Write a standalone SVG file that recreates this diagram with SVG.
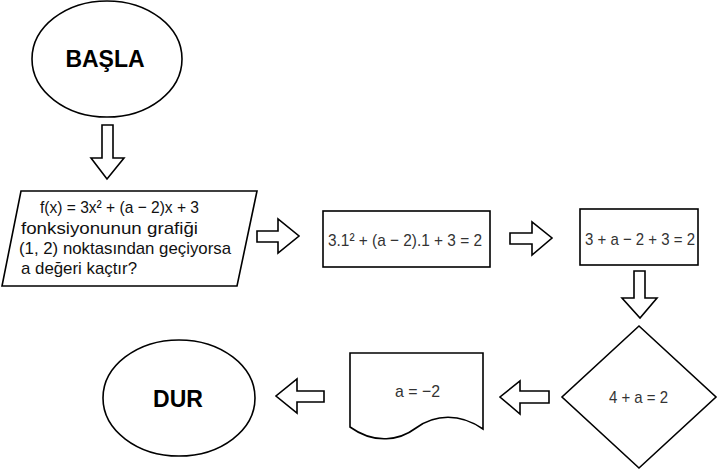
<svg xmlns="http://www.w3.org/2000/svg" width="718" height="470" viewBox="0 0 718 470">
<style>
.shape{fill:#fff;stroke:#000;stroke-width:1.6}
.arrow{fill:#fff;stroke:#000;stroke-width:1.6;stroke-linejoin:miter}
.term{font-family:"Liberation Sans",Arial,sans-serif;font-weight:bold;font-size:23px;fill:#000;text-anchor:middle}
.body{font-family:"Liberation Sans",Arial,sans-serif;font-size:17px;fill:#111}
.math{font-family:"Liberation Sans",Arial,sans-serif;font-size:17px;fill:#333}
</style>
<rect width="718" height="470" fill="#fff"/>
<g id="basla">
<ellipse class="shape" cx="107" cy="59" rx="75" ry="58"/>
<text class="term" x="105" y="67">BAŞLA</text>
</g>
<g id="soru">
<polygon class="shape" points="21,191 257,191 237,286 2,286"/>
<text class="body" x="40" y="213" textLength="159" lengthAdjust="spacingAndGlyphs">f(x) = 3x² + (a − 2)x + 3</text>
<text class="body" x="21" y="234" textLength="177" lengthAdjust="spacingAndGlyphs">fonksiyonunun grafiği</text>
<text class="body" x="19" y="254" textLength="212" lengthAdjust="spacingAndGlyphs">(1, 2) noktasından geçiyorsa</text>
<text class="body" x="21" y="274" textLength="116" lengthAdjust="spacingAndGlyphs">a değeri kaçtır?</text>
</g>
<g id="adim1">
<rect class="shape" x="323" y="211" width="167" height="56"/>
<text class="math" x="328" y="246" textLength="154" lengthAdjust="spacingAndGlyphs">3.1² + (a − 2).1 + 3 = 2</text>
</g>
<g id="adim2">
<rect class="shape" x="580" y="209" width="118" height="56"/>
<text class="math" x="585" y="245" textLength="110" lengthAdjust="spacingAndGlyphs">3 + a − 2 + 3 = 2</text>
</g>
<g id="karar">
<polygon class="shape" points="639,326 716,397 639,468 562,397"/>
<text class="math" x="609" y="403" textLength="59" lengthAdjust="spacingAndGlyphs">4 + a = 2</text>
</g>
<g id="sonuc">
<path class="shape" d="M350,353 L483,353 L483,429 C460,413 435,414 416,428 C400,440 375,445 350,427 Z"/>
<text class="math" x="395" y="397" textLength="45" lengthAdjust="spacingAndGlyphs" font-size="16">a = −2</text>
</g>
<g id="dur">
<ellipse class="shape" cx="179" cy="398" rx="76" ry="58"/>
<text class="term" x="178" y="407">DUR</text>
</g>
<g id="connectors">
<polygon class="arrow" points="102,125 113,125 113,158 124,158 107,179 91,158 102,158"/>
<polygon class="arrow" points="257,231 278,231 278,219 299,236 278,253 278,242 257,242"/>
<polygon class="arrow" points="510,233 532,233 532,222 552,238 532,255 532,244 510,244"/>
<polygon class="arrow" points="634,271 645,271 645,298 657,298 640,318 622,298 634,298"/>
<polygon class="arrow" points="549,391 520,391 520,381 500,397 520,414 520,403 549,403"/>
<polygon class="arrow" points="324,391 297,391 297,379 276,396 297,413 297,402 324,402"/>
</g>
</svg>
